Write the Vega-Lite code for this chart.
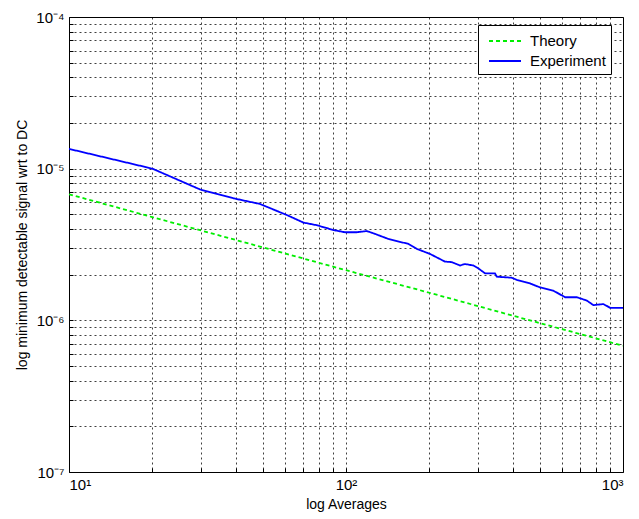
{
  "$schema": "https://vega.github.io/schema/vega-lite/v6.json",
  "width": 554,
  "height": 455,
  "autosize": {"type": "none"},
  "padding": {"left": 69, "top": 17, "right": 16, "bottom": 47},
  "background": "white",
  "config": {
    "font": "Liberation Sans",
    "view": {"stroke": "black", "strokeWidth": 1},
    "axis": {
      "domain": false,
      "ticks": true,
      "tickSize": -4,
      "tickColor": "#000000",
      "tickWidth": 1,
      "grid": true,
      "gridColor": "#000000",
      "gridDash": [2, 3],
      "gridOpacity": 0.75,
      "gridWidth": 1,
      "labelFont": "Liberation Sans",
      "labelFontSize": 15,
      "labelColor": "#000000",
      "titleFont": "Liberation Sans",
      "titleFontSize": 14,
      "titleFontWeight": "normal",
      "titleColor": "#000000"
    }
  },
  "data": {
    "values": [
      {"N": 10, "value": 6.78e-6, "series": "Theory"},
      {"N": 20, "value": 4.79e-6, "series": "Theory"},
      {"N": 50, "value": 3.03e-6, "series": "Theory"},
      {"N": 100, "value": 2.14e-6, "series": "Theory"},
      {"N": 200, "value": 1.52e-6, "series": "Theory"},
      {"N": 500, "value": 9.6e-7, "series": "Theory"},
      {"N": 1000, "value": 6.8e-7, "series": "Theory"},
      {"N": 10, "value": 1.35e-5, "series": "Experiment"},
      {"N": 20, "value": 1.0e-5, "series": "Experiment"},
      {"N": 21.9, "value": 9.3e-6, "series": "Experiment"},
      {"N": 29.7, "value": 7.3e-6, "series": "Experiment"},
      {"N": 39.2, "value": 6.38e-6, "series": "Experiment"},
      {"N": 48.9, "value": 5.85e-6, "series": "Experiment"},
      {"N": 61.1, "value": 4.95e-6, "series": "Experiment"},
      {"N": 70.2, "value": 4.41e-6, "series": "Experiment"},
      {"N": 78.4, "value": 4.24e-6, "series": "Experiment"},
      {"N": 90, "value": 3.94e-6, "series": "Experiment"},
      {"N": 99, "value": 3.81e-6, "series": "Experiment"},
      {"N": 109.3, "value": 3.81e-6, "series": "Experiment"},
      {"N": 118.8, "value": 3.88e-6, "series": "Experiment"},
      {"N": 125.5, "value": 3.75e-6, "series": "Experiment"},
      {"N": 142.3, "value": 3.44e-6, "series": "Experiment"},
      {"N": 168, "value": 3.19e-6, "series": "Experiment"},
      {"N": 180, "value": 2.96e-6, "series": "Experiment"},
      {"N": 201, "value": 2.74e-6, "series": "Experiment"},
      {"N": 227.6, "value": 2.44e-6, "series": "Experiment"},
      {"N": 240.6, "value": 2.42e-6, "series": "Experiment"},
      {"N": 258, "value": 2.3e-6, "series": "Experiment"},
      {"N": 269, "value": 2.35e-6, "series": "Experiment"},
      {"N": 288, "value": 2.3e-6, "series": "Experiment"},
      {"N": 300.6, "value": 2.2e-6, "series": "Experiment"},
      {"N": 317.7, "value": 2.04e-6, "series": "Experiment"},
      {"N": 345, "value": 2.04e-6, "series": "Experiment"},
      {"N": 350, "value": 1.94e-6, "series": "Experiment"},
      {"N": 396, "value": 1.91e-6, "series": "Experiment"},
      {"N": 413, "value": 1.85e-6, "series": "Experiment"},
      {"N": 462, "value": 1.75e-6, "series": "Experiment"},
      {"N": 501, "value": 1.65e-6, "series": "Experiment"},
      {"N": 560, "value": 1.57e-6, "series": "Experiment"},
      {"N": 618, "value": 1.42e-6, "series": "Experiment"},
      {"N": 681, "value": 1.42e-6, "series": "Experiment"},
      {"N": 740, "value": 1.35e-6, "series": "Experiment"},
      {"N": 782, "value": 1.26e-6, "series": "Experiment"},
      {"N": 850, "value": 1.28e-6, "series": "Experiment"},
      {"N": 898, "value": 1.21e-6, "series": "Experiment"},
      {"N": 1000, "value": 1.21e-6, "series": "Experiment"}
    ]
  },
  "mark": {"type": "line", "strokeWidth": 1.8, "clip": true},
  "encoding": {
    "x": {
      "field": "N",
      "type": "quantitative",
      "scale": {"type": "log", "domain": [10, 1000], "nice": false},
      "axis": {
        "title": "log Averages",
        "values": [10, 20, 30, 40, 50, 60, 70, 80, 90, 100, 200, 300, 400, 500, 600, 700, 800, 900, 1000],
        "labelExpr": "datum.value == 10 ? '10¹' : datum.value == 100 ? '10²' : datum.value == 1000 ? '10³' : ''",
        "labelPadding": 9,
        "labelOverlap": false,
        "titlePadding": 5
      }
    },
    "y": {
      "field": "value",
      "type": "quantitative",
      "scale": {"type": "log", "domain": [1e-7, 1e-4], "nice": false, "zero": false},
      "axis": {
        "title": "log minimum detectable signal wrt to DC",
        "values": [1e-7, 2e-7, 3e-7, 4e-7, 5e-7, 6e-7, 7e-7, 8e-7, 9e-7, 1e-6, 2e-6, 3e-6, 4e-6, 5e-6, 6e-6, 7e-6, 8e-6, 9e-6, 1e-5, 2e-5, 3e-5, 4e-5, 5e-5, 6e-5, 7e-5, 8e-5, 9e-5, 1e-4],
        "labelExpr": "datum.value == 1e-4 ? '10⁻⁴' : datum.value == 1e-5 ? '10⁻⁵' : datum.value == 1e-6 ? '10⁻⁶' : datum.value == 1e-7 ? '10⁻⁷' : ''",
        "labelPadding": 9,
        "labelOverlap": false,
        "titlePadding": 6
      }
    },
    "color": {
      "field": "series",
      "type": "nominal",
      "scale": {"domain": ["Theory", "Experiment"], "range": ["#00ee00", "#0000ff"]},
      "legend": {
        "title": null,
        "orient": "none",
        "legendX": 409,
        "legendY": 8,
        "fillColor": "white",
        "strokeColor": "#000000",
        "padding": 5,
        "rowPadding": 1,
        "symbolType": "M-0.5,0H2.7",
        "symbolSize": 400,
        "symbolStrokeWidth": 1.8,
        "labelFont": "Liberation Sans",
        "labelFontSize": 15,
        "labelColor": "#000000",
        "labelOffset": 25
      }
    },
    "strokeDash": {
      "field": "series",
      "type": "nominal",
      "scale": {"domain": ["Theory", "Experiment"], "range": [[4, 3], [1, 0]]},
      "legend": {
        "title": null,
        "orient": "none",
        "legendX": 409,
        "legendY": 8,
        "fillColor": "white",
        "strokeColor": "#000000",
        "padding": 5,
        "rowPadding": 1,
        "symbolType": "M-0.5,0H2.7",
        "symbolSize": 400,
        "symbolStrokeWidth": 1.8,
        "labelFont": "Liberation Sans",
        "labelFontSize": 15,
        "labelColor": "#000000",
        "labelOffset": 25
      }
    }
  }
}
